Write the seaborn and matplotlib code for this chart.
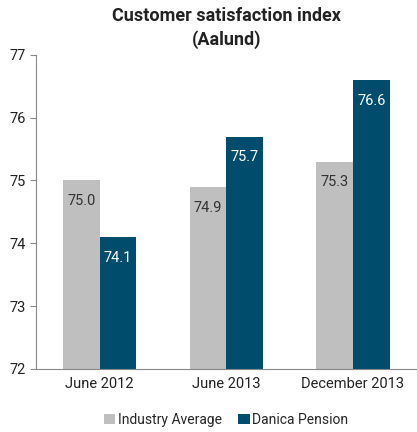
import pandas as pd
import matplotlib.pyplot as plt
import seaborn as sns

periods = ["June 2012", "June 2013", "December 2013"]
industry = [75.0, 74.9, 75.3]
danica = [74.1, 75.7, 76.6]
series = ["Industry Average", "Danica Pension"]
colors = ["#BFBFBF", "#004C6D"]
label_colors = ["#333333", "white"]

sns.set_style("white")
plt.rcParams["font.family"] = ["Roboto", "DejaVu Sans"]

df = pd.DataFrame({
    "period": periods * 2,
    "series": [series[0]] * 3 + [series[1]] * 3,
    "value": industry + danica,
})

fig = plt.figure(figsize=(4.17, 4.32), dpi=100)
ax = fig.add_axes([0.087, 0.146, 0.911, 0.727])
sns.barplot(data=df, x="period", y="value", hue="series", palette=colors,
            width=0.58, saturation=1, linewidth=0, ax=ax, order=periods,
            hue_order=series)

ax.set_ylim(72, 77)
ax.set_xlim(-0.5, 2.5)
ax.set_xlabel("")
ax.set_ylabel("")
ax.set_title("Customer satisfaction index\n(Aalund)", fontsize=13, fontweight="bold",
             color="#222222", pad=7, linespacing=1.4)

for cont, lc in zip(ax.containers, label_colors):
    for bar in cont:
        h = bar.get_height()
        ax.annotate(f"{h:.1f}", (bar.get_x() + bar.get_width() / 2, h),
                    xytext=(0, -15), textcoords="offset points",
                    ha="center", va="center", color=lc, fontsize=10.5)

for s in ["top", "right"]:
    ax.spines[s].set_visible(False)
for s in ["left", "bottom"]:
    ax.spines[s].set_color("#888888")
    ax.spines[s].set_linewidth(0.8)

ax.set_xticks([0, 1, 2])
ax.set_xticklabels(periods, fontsize=10.5, color="#222222")
ax.set_xticks([-0.5, 0.5, 1.5, 2.5], minor=True)
ax.tick_params(axis="x", which="major", length=0, pad=6)
ax.tick_params(axis="x", which="minor", length=4, color="#888888", direction="out")
ax.tick_params(axis="y", length=4, color="#888888", direction="out", labelsize=10.5,
               labelcolor="#222222", left=True)

ax.legend(loc="upper center", bbox_to_anchor=(0.5, -0.1), ncol=2, frameon=False,
          fontsize=10, handlelength=0.8, handleheight=0.8, handletextpad=0.2,
          columnspacing=1.2)

fig.savefig("out.png", dpi=100)
